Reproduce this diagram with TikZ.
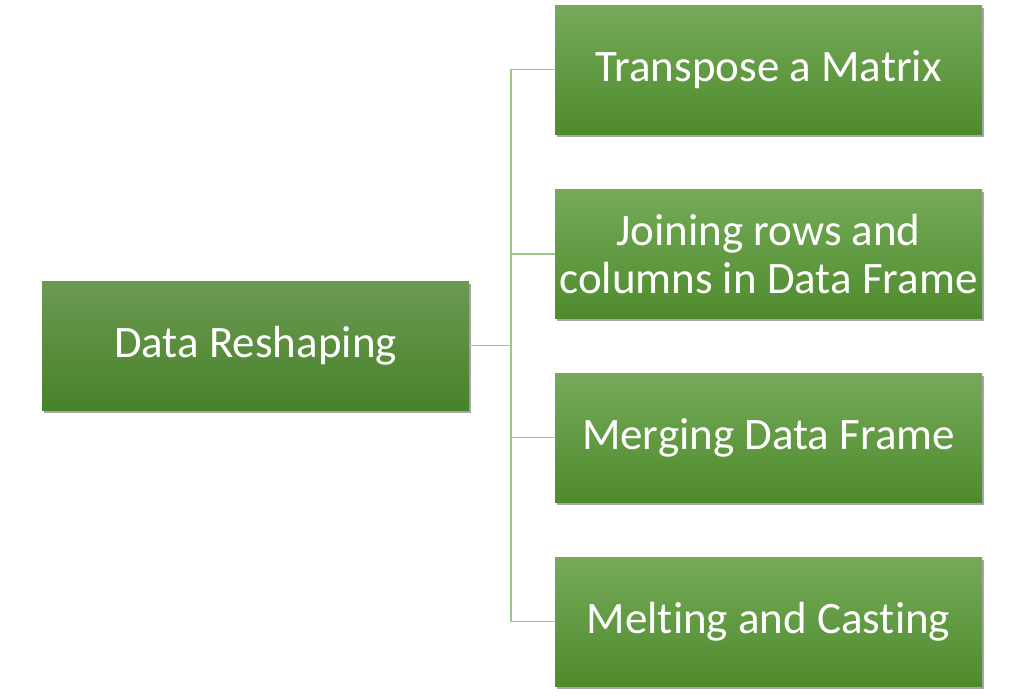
\documentclass[tikz,border=0pt]{standalone}
\usepackage{fontspec}
\setmainfont[Ligatures=NoCommon]{Carlito}
\usepackage{tikz}
\usetikzlibrary{shadows}

\definecolor{leaftop}{RGB}{117,170,89}
\definecolor{leafbot}{RGB}{79,139,45}
\definecolor{roottop}{RGB}{108,153,84}
\definecolor{rootbot}{RGB}{72,131,40}
\definecolor{linkgreen}{RGB}{160,198,138}

\tikzset{
    topic/.style={rectangle, minimum width=427pt, minimum height=129pt, inner sep=0pt,
        top color=leaftop, bottom color=leafbot, text=white, align=center,
        font=\fontsize{45}{48}\selectfont,
        drop shadow={shadow xshift=1.5pt, shadow yshift=-2.5pt, opacity=0.35, fill=black}},
    roottopic/.style={topic, top color=roottop, bottom color=rootbot},
    link/.style={draw=linkgreen, line width=1.5pt}
}

\begin{document}
\begin{tikzpicture}[x=1pt, y=-1pt]
    \useasboundingbox (0, 0) rectangle (1024, 696);

    \node[roottopic] (reshape) at (255.5, 345.5) {Data Reshaping};

    \node[topic] (transpose) at (768.5, 69.5) {Transpose a Matrix};
    \node[topic] (joining) at (768.5, 254) {Joining rows and\\columns in Data Frame};
    \node[topic] (merging) at (768.5, 437.5) {Merging Data Frame};
    \node[topic] (melting) at (768.5, 621.5) {Melting and Casting};

    \coordinate (bus) at (511, 345.5);
    \draw[link] (reshape.east) -- (bus);
    \foreach \t in {transpose, joining, merging, melting}
        \draw[link] (bus) |- (\t.west);
\end{tikzpicture}
\end{document}
